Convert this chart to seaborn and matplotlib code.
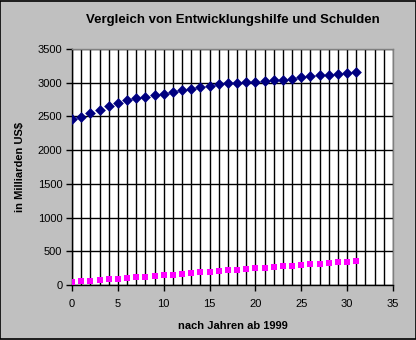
import matplotlib
matplotlib.use("Agg")
import matplotlib.pyplot as plt
import seaborn as sns
import pandas as pd
from matplotlib.patches import Rectangle

sns.set_theme(style="white")
plt.rcParams['font.family'] = ['Liberation Sans', 'DejaVu Sans']

years = list(range(0, 32))
schulden = [2457, 2496, 2546, 2591, 2650, 2699, 2739, 2769, 2784, 2818,
            2833, 2862, 2892, 2907, 2937, 2951, 2981, 2992, 2996, 3006,
            3016, 3031, 3046, 3046, 3061, 3080, 3095, 3115, 3115, 3130,
            3140, 3155]
hilfe = [44, 64, 64, 74, 89, 89, 104, 119, 119, 133,
         153, 153, 168, 183, 197, 197, 212, 222, 222, 237,
         252, 252, 271, 286, 286, 301, 316, 316, 331, 346,
         346, 360]

df = pd.DataFrame({"Jahr": years, "Schulden": schulden, "Hilfe": hilfe})

fig = plt.figure(figsize=(4.16, 3.40), dpi=100)
fig.patch.set_facecolor("#c0c0c0")
fig.patches.append(Rectangle((0.0012, 0.0015), 0.9976, 0.997, transform=fig.transFigure,
                             fill=False, edgecolor="black", linewidth=1.2))
ax = fig.add_axes([72/416, 1-285/340, (393-72)/416, (285-49)/340])
ax.set_facecolor("white")

sns.scatterplot(data=df, x="Jahr", y="Schulden", ax=ax, marker="D", s=30,
                color="#000080", edgecolor="#000080", linewidth=0, zorder=3)
sns.scatterplot(data=df, x="Jahr", y="Hilfe", ax=ax, marker="s", s=24,
                color="#ff00ff", edgecolor="#ff00ff", linewidth=0, zorder=3)

ax.set_xlim(0, 35)
ax.set_ylim(0, 3500)
ax.set_xticks(range(0, 36, 5))
ax.set_xticks(range(0, 36), minor=True)
ax.set_yticks(range(0, 3501, 500))
ax.grid(True, which="both", axis="x", color="black", linewidth=1.0)
ax.grid(True, which="major", axis="y", color="black", linewidth=1.0)
ax.set_axisbelow(True)
for side in ["top", "right"]:
    ax.spines[side].set_color("#808080")
    ax.spines[side].set_linewidth(1.0)
for side in ["left", "bottom"]:
    ax.spines[side].set_color("black")
    ax.spines[side].set_linewidth(1.0)
ax.tick_params(axis="both", which="major", direction="out", length=4, width=1,
               color="black", labelsize=8, labelcolor="black", left=True, bottom=True)
ax.tick_params(axis="x", which="major", pad=6)
ax.tick_params(axis="y", which="major", pad=3)
ax.tick_params(axis="x", which="minor", length=0)

ax.set_xlabel("nach Jahren ab 1999", fontsize=8, fontweight="bold", color="black", labelpad=9)
ax.set_ylabel("in Milliarden US$", fontsize=8, fontweight="bold", color="black", labelpad=9)
fig.text(233/416, 1-20/340, "Vergleich von Entwicklungshilfe und Schulden",
         ha="center", va="center", fontsize=9.5, fontweight="bold", color="black")

fig.savefig("out.png", dpi=100, facecolor=fig.get_facecolor())
